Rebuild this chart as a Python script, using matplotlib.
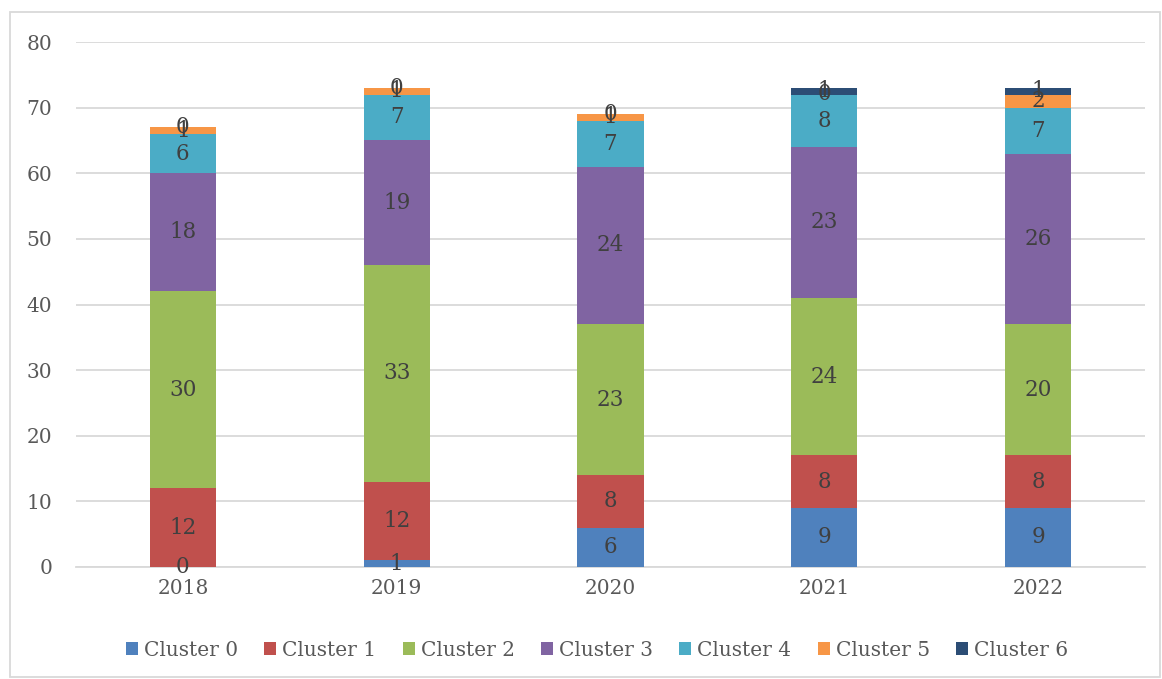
import matplotlib
matplotlib.use("Agg")
import matplotlib.pyplot as plt
from matplotlib.patches import Rectangle
import numpy as np

years = ["2018", "2019", "2020", "2021", "2022"]
series_names = ["Cluster 0", "Cluster 1", "Cluster 2", "Cluster 3", "Cluster 4", "Cluster 5", "Cluster 6"]
cluster0 = [0, 1, 6, 9, 9]
cluster1 = [12, 12, 8, 8, 8]
cluster2 = [30, 33, 23, 24, 20]
cluster3 = [18, 19, 24, 23, 26]
cluster4 = [6, 7, 7, 8, 7]
cluster5 = [1, 1, 1, 0, 2]
cluster6 = [0, 0, 0, 1, 1]
series = [cluster0, cluster1, cluster2, cluster3, cluster4, cluster5, cluster6]
colors = ["#4F81BD", "#C0504D", "#9BBB59", "#8064A2", "#4BACC6", "#F79646", "#2C4D75"]
yticks = [0, 10, 20, 30, 40, 50, 60, 70, 80]

plt.rcParams['font.family'] = ['DejaVu Serif']

fig = plt.figure(figsize=(11.62, 6.79), dpi=100)
ax = fig.add_axes([76/1162, 1-567/679, (1145-76)/1162, (567-42)/679])

x = np.arange(len(years))
bottom = np.zeros(len(years))
width = 0.31
handles = []
for name, vals, col in zip(series_names, series, colors):
    vals = np.array(vals, dtype=float)
    b = ax.bar(x, vals, width, bottom=bottom, color=col, label=name, zorder=3)
    handles.append(b)
    for xi, v, bt in zip(x, vals, bottom):
        ax.text(xi, bt + v/2, f"{int(v)}", ha="center", va="center",
                fontsize=15.5, color="#404040", zorder=4)
    bottom += vals

ax.set_xlim(-0.5, len(years) - 0.5)
ax.set_ylim(0, 80)
ax.set_yticks(yticks)
ax.set_xticks(x)
ax.set_xticklabels(years)
ax.grid(axis="y", color="#D9D9D9", linewidth=1.3, zorder=0)
ax.set_axisbelow(True)
for s in ["top", "right", "left"]:
    ax.spines[s].set_visible(False)
ax.spines["bottom"].set_color("#D9D9D9")
ax.spines["bottom"].set_linewidth(1.3)
ax.tick_params(axis="both", length=0, labelsize=14.5, labelcolor="#595959")
ax.tick_params(axis="y", pad=17)
ax.tick_params(axis="x", pad=9)

fig.legend(handles=handles, labels=series_names, loc="center", bbox_to_anchor=(597/1162, 1-650/679),
           ncol=7, frameon=False, fontsize=14.5, handlelength=0.6, handleheight=0.6,
           handletextpad=0.3, columnspacing=1.3, labelcolor="#595959")

fig.patches.append(Rectangle((10/1162, 2/679), 1150/1162, 665/679, transform=fig.transFigure,
                             fill=False, edgecolor="#D9D9D9", linewidth=1.3))

fig.savefig("out.png", dpi=100)
